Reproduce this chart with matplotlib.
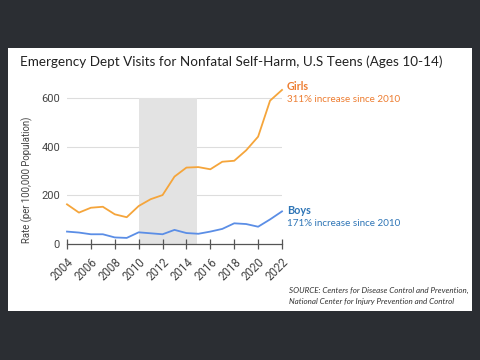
import matplotlib
matplotlib.use("Agg")
import matplotlib.pyplot as plt
from matplotlib.patches import Rectangle

years = list(range(2004, 2023))
girls = [163, 129, 149, 153, 122, 110, 156, 184, 201, 277, 314, 316, 307, 338, 342, 385, 441, 589, 633]
boys = [51, 47, 40, 40, 27, 25, 48, 44, 40, 58, 45, 42, 51, 62, 85, 82, 71, 101, 134]
xticks = list(range(2004, 2023, 2))
yticks = [0, 200, 400, 600]

title = "Emergency Dept Visits for Nonfatal Self-Harm, U.S Teens (Ages 10-14)"
ylabel = "Rate (per 100,000 Population)"
source = "SOURCE: Centers for Disease Control and Prevention,\nNational Center for Injury Prevention and Control"

fig = plt.figure(figsize=(4.8, 3.6), dpi=100)
fig.patch.set_facecolor("#2b2e33")

# white panel
fig.patches.append(Rectangle((8/480, 1-311/360), (472-8)/480, (311-48)/360,
                             transform=fig.transFigure, facecolor="white",
                             edgecolor="none", zorder=-5))

ax = fig.add_axes([67/480, 1-244/360, 215/480, 158.2/360])
ax.set_zorder(2)
ax.set_facecolor("none")
ax.set_xlim(2004, 2022)
ax.set_ylim(0, 650)

ax.fill_between([2010, 2014.9], 0, 600, color="#e3e3e3", zorder=1, linewidth=0)
for v in yticks[1:]:
    ax.axhline(v, color="#dddddd", linewidth=0.8, zorder=0.5)

ax.plot(years, girls, color="#f5a53b", linewidth=1.3, zorder=3, clip_on=False)
ax.plot(years, boys, color="#5b8ee6", linewidth=1.3, zorder=3, clip_on=False)

for s in ["top", "right", "left"]:
    ax.spines[s].set_visible(False)
ax.spines["bottom"].set_color("#555555")
ax.spines["bottom"].set_linewidth(0.9)

ax.set_xticks(xticks)
ax.set_xticklabels([str(x) for x in xticks], rotation=45, ha="right",
                   rotation_mode="anchor", fontsize=8.3, color="#444444",
                   family="Roboto")
ax.tick_params(axis="x", direction="inout", length=7.5, width=0.9, color="#555555", pad=4.5)
ax.set_yticks(yticks)
ax.set_yticklabels([str(v) for v in yticks], fontsize=8, color="#444444", family="Roboto")
ax.tick_params(axis="y", length=0, pad=5)

fig.text(27/480, 1-180/360, ylabel, rotation=90, ha="center", va="center",
         fontsize=6.9, color="#444444", family="Roboto", zorder=3)

fig.text(20/480, 1-62/360, title, ha="left", va="center", fontsize=9.75,
         color="#222222", family="Lato", zorder=3)

fig.text(287/480, 1-87/360, "Girls", ha="left", va="center", fontsize=7.8,
         fontweight="bold", color="#ed7d31", family="Lato", zorder=3)
fig.text(287/480, 1-99.5/360, "311% increase since 2010", ha="left", va="center",
         fontsize=7.1, color="#ed7d31", family="Lato", zorder=3)
fig.text(287/480, 1-211/360, "Boys", ha="left", va="center", fontsize=7.8,
         fontweight="bold", color="#2e75b6", family="Lato", zorder=3)
fig.text(287/480, 1-223.5/360, "171% increase since 2010", ha="left", va="center",
         fontsize=7.1, color="#2e75b6", family="Lato", zorder=3)

fig.text(289/480, 1-296/360, source, ha="left", va="center", fontsize=5.8,
         style="italic", color="#333333", family="Lato", linespacing=1.6, zorder=3)

fig.savefig("out.png", dpi=100, facecolor=fig.get_facecolor())
